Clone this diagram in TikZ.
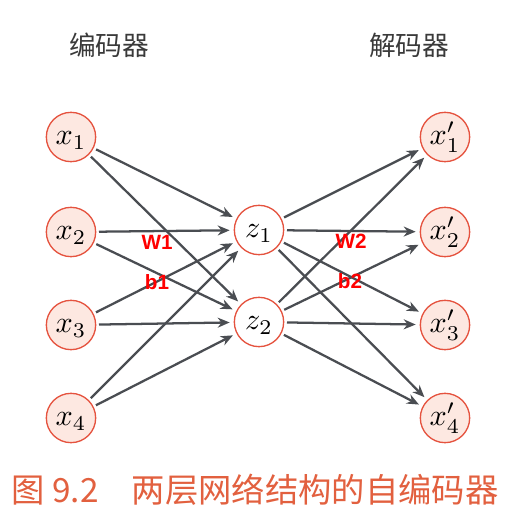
\documentclass[tikz,border=0pt]{standalone}
\usepackage{graphicx}
\usepackage{fontspec}
\setmainfont{Liberation Sans}
\newfontfamily\cjk{Noto Sans CJK SC}
\usepackage{tikz}
\usetikzlibrary{arrows.meta,positioning}
\definecolor{aered}{HTML}{E5533F}
\definecolor{aefill}{HTML}{FDE8E1}
\definecolor{aeline}{HTML}{4A4D52}
\definecolor{aetext}{HTML}{3A3A3A}
\definecolor{aecap}{HTML}{E2603F}
\newcommand{\nvar}[1]{\resizebox{!}{17pt}{$#1\vphantom{x'_1}$}}
\tikzset{
  unit/.style={circle, draw=aered, line width=1pt, minimum size=37pt, inner sep=0pt},
  inunit/.style={unit, fill=aefill},
  hidunit/.style={unit, fill=white},
  flow/.style={-{Stealth[length=9pt,width=7.5pt]}, draw=aeline, line width=1.7pt, shorten >=3pt, shorten <=2pt},
  wlabel/.style={text=red, font=\bfseries\fontsize{15.5}{15.5}\selectfont},
  title/.style={text=aetext, font=\cjk\fontsize{20}{20}\selectfont},
}

\begin{document}
\begin{tikzpicture}[x=0.75pt, y=-0.75pt]
  \useasboundingbox (0,0) rectangle (521,528);
  \node[title] (enc) at (109,45) {编码器};
  \node[title] (dec) at (409,45) {解码器};
  % input layer
  \node[inunit] (x1) at (71,137) {\nvar{x_1}};
  \node[inunit] (x2) at (71,232) {\nvar{x_2}};
  \node[inunit] (x3) at (71,325) {\nvar{x_3}};
  \node[inunit] (x4) at (71,418) {\nvar{x_4}};
  % hidden layer
  \node[hidunit] (z1) at (259,230) {\nvar{z_1}};
  \node[hidunit] (z2) at (259,322) {\nvar{z_2}};
  % output layer
  \node[inunit] (y1) at (445,137) {\nvar{x'_1}};
  \node[inunit] (y2) at (445,232) {\nvar{x'_2}};
  \node[inunit] (y3) at (445,325) {\nvar{x'_3}};
  \node[inunit] (y4) at (445,418) {\nvar{x'_4}};
  \foreach \i in {1,2,3,4} {
    \foreach \j in {1,2} {
      \draw[flow] (x\i)--(z\j);
      \draw[flow] (z\j)--(y\i);
    }
  }
  \node[wlabel] (w1) at (157,242) {W1};
  \node[wlabel] (b1) at (157,282) {b1};
  \node[wlabel] (w2) at (351,241) {W2};
  \node[wlabel] (b2) at (350,281) {b2};
  \node[text=aecap, font=\cjk\fontsize{25}{25}\selectfont] (cap) at (255,490) {图 9.2\quad 两层网络结构的自编码器};
\end{tikzpicture}
\end{document}
